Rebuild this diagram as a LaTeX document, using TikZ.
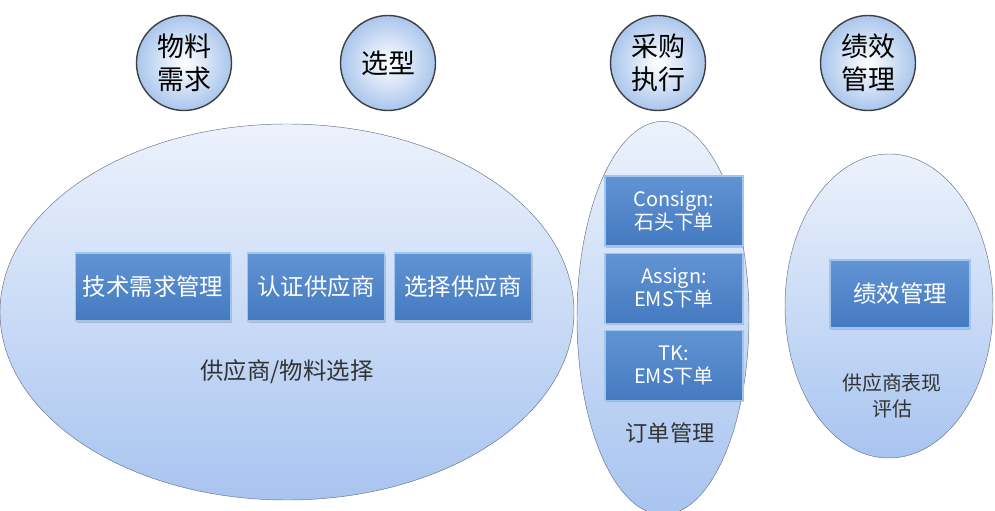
\documentclass[tikz,border=0pt]{standalone}
\usepackage{fontspec}
\setmainfont{Noto Sans CJK SC}
\usetikzlibrary{positioning,shapes.geometric,shadows}

\definecolor{ovaltop}{RGB}{236,242,252}
\definecolor{ovalbot}{RGB}{168,196,240}
\definecolor{ovaledge}{RGB}{105,115,135}
\definecolor{boxtop}{RGB}{98,148,212}
\definecolor{boxbot}{RGB}{68,122,192}
\definecolor{boxedge}{RGB}{160,198,238}
\definecolor{ballrim}{RGB}{170,198,236}

\begin{document}
\begin{tikzpicture}[x=0.03cm,y=-0.03cm,
  oval/.style={ellipse,draw=ovaledge,top color=ovaltop,bottom color=ovalbot,inner sep=0pt},
  ball/.style={circle,draw=black!75,line width=1.2pt,inner color=white,outer color=ballrim,
    minimum size=2.85cm,inner sep=0pt,align=center,font=\fontsize{23}{28}\selectfont},
  task/.style={rectangle,draw=boxedge,line width=1pt,top color=boxtop,bottom color=boxbot,
    text=white,align=center,inner sep=0pt,minimum height=2.04cm,
    drop shadow={opacity=0.35,shadow xshift=1pt,shadow yshift=-1.5pt}},
  lbl/.style={align=center,text=black!80}]
\useasboundingbox (0,0) rectangle (995,511);

% three stages below
\node[oval,minimum width=17.22cm,minimum height=11.28cm] (sel) at (287,312) {};
\node[oval,minimum width=5.16cm,minimum height=11.8cm] (ord) at (663,318) {};
\node[oval,minimum width=6.24cm,minimum height=9.12cm] (perf) at (889,306) {};

% stage balls
\node[ball] (b1) at (184,63) {物料\\需求};
\node[ball] (b2) at (388,63) {选型};
\node[ball] (b3) at (658,63) {采购\\执行};
\node[ball] (b4) at (868,63) {绩效\\管理};

% supplier / material selection
\node[task,minimum width=4.65cm,font=\fontsize{20}{24}\selectfont] (t1) at (153,287) {技术需求管理};
\node[task,minimum width=4.11cm,font=\fontsize{20}{24}\selectfont] (t2) at (316,287) {认证供应商};
\node[task,minimum width=4.11cm,font=\fontsize{20}{24}\selectfont] (t3) at (463,287) {选择供应商};
\node[lbl,font=\fontsize{20}{24}\selectfont] (l1) at (287,372) {供应商/物料选择};

% order management
\node[task,minimum width=4.14cm,minimum height=2.1cm,font=\fontsize{17}{20}\selectfont] (o1) at (674,211) {Consign:\\石头下单};
\node[task,minimum width=4.14cm,minimum height=2.1cm,font=\fontsize{17}{20}\selectfont,below=0.18cm of o1] (o2) {Assign:\\EMS下单};
\node[task,minimum width=4.14cm,minimum height=2.1cm,font=\fontsize{17}{20}\selectfont,below=0.18cm of o2] (o3) {TK:\\EMS下单};
\node[lbl,font=\fontsize{19}{24}\selectfont] (l2) at (670,433) {订单管理};

% performance
\node[task,minimum width=4.2cm,font=\fontsize{20}{24}\selectfont] (p1) at (900,294) {绩效管理};
\node[lbl,font=\fontsize{17}{22}\selectfont] (l3) at (892,396) {供应商表现\\评估};
\end{tikzpicture}
\end{document}
